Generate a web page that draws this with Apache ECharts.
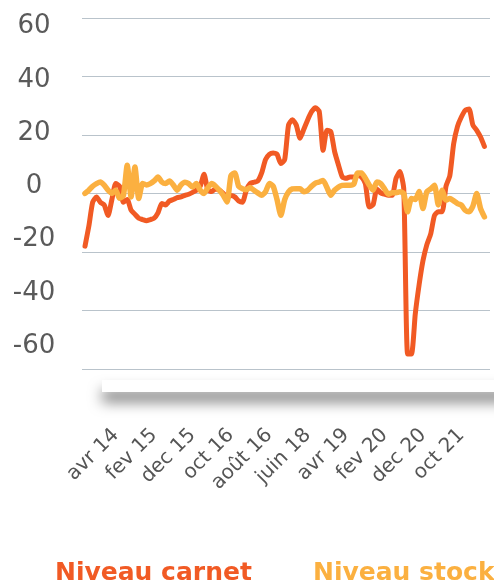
<!DOCTYPE html>
<html>
<head>
<meta charset="utf-8">
<script src="https://cdn.jsdelivr.net/npm/echarts@6/dist/echarts.min.js"></script>
<style>
html,body{margin:0;padding:0;background:#fff;}
#chart{width:494px;height:588px;}
</style>
</head>
<body>
<div id="chart"></div>
<script>
// Monthly categories: août 13 .. avr 22
var monthNames = ['janv','fev','mars','avr','mai','juin','juil','août','sept','oct','nov','dec'];
var startMonth = 7, startYear = 13, pointCount = 105;
var categories = [];
for (var k = 0; k < pointCount; k++) {
  var m = (startMonth + k) % 12, y = startYear + Math.floor((startMonth + k) / 12);
  categories.push(monthNames[m] + ' ' + y);
}
var tickLabels = ['avr 14','fev 15','dec 15','oct 16','août 16','juin 18','avr 19','fev 20','dec 20','oct 21'];
var firstTickIndex = 8, tickStep = 10;

var niveauCarnet = [
 -22.5,-15,-6,-4,-6,-7,-11,-5,1,0,
 -6,-5,-9,-10.5,-12,-12.5,-13,-12.5,-12,-10,
 -6.5,-7,-5.5,-5,-4.3,-4,-3.4,-3,-2.3,-1.5,
 0,4.5,-1.5,-2,-1,-1.5,-2.7,-4,-3.5,-4,
 -5.5,-6,-1.5,1,1.5,2,5,10,12,12.5,
 12,8.5,10,23,25,23,18,21.5,25,28,
 29.5,28,13.5,21,20.5,13,8,3.5,3,3.5,
 3.5,4,3.5,1,-7.8,-7,-1,-2.5,-3,-3.4,
 -3.4,3,5.5,-1,-63,-63,-48,-37,-28,-22,
 -18,-11,-9.6,-9.6,0,4,16,22.5,26,28.5,
 29,23,21,18.5,15
];
var niveauStock = [
 -2.7,-1.5,0,1,1.6,0.4,-1.5,-2.7,-1.5,-4.5,
 -3.5,7.9,-4,7.2,-4.6,1,0.5,1,2,3.5,
 1.6,1,2,0.5,-1.5,0.5,1.5,1,-0.3,1,
 -1.5,-2.7,-0.5,1,0,-1.5,-3.4,-5.9,4,5,
 0,-0.9,-1.3,-0.5,-1.5,-2.5,-3.4,-2.1,1,0,
 -5,-10.9,-5,-2.1,-1,-0.9,-0.9,-2.1,-1.5,0,
 1.2,1.6,2.2,-0.5,-3.4,-1.5,-0.3,0.3,0.4,0.4,
 0.8,5,5,3,0.5,-1.5,1.6,1,-1,-3,
 -2.4,-2.4,-2.1,-2.7,-9.6,-4.6,-5,-2,-8.4,-2.1,
 -1,0.4,-7,-1.5,-5.2,-4.6,-5.5,-6.5,-7.1,-9,
 -9.6,-7.5,-2.7,-8.4,-11.5
];

var colorCarnet = '#F15A24';
var colorStock = '#FBB040';
var fontFam = '"DejaVu Sans", sans-serif';
var legendText = {fontFamily: fontFam, fontSize: 25, fontWeight: 'bold', padding: 0};

var chart = echarts.init(document.getElementById('chart'), null, {renderer: 'canvas'});
chart.setOption({
  animation: false,
  backgroundColor: '#fff',
  graphic: [{
    type: 'rect', z: -10, silent: true,
    shape: {x: 102, y: 380, width: 420, height: 12},
    style: {fill: '#fff', shadowBlur: 14, shadowOffsetY: 10, shadowColor: 'rgba(0,0,0,0.5)'}
  }],
  legend: [{
    left: 45, top: 556, itemWidth: 0, itemHeight: 0, icon: 'none', selectedMode: false,
    textStyle: Object.assign({color: colorCarnet}, legendText),
    data: ['Niveau carnet']
  }, {
    left: 303, top: 556, itemWidth: 0, itemHeight: 0, icon: 'none', selectedMode: false,
    width: 400,
    textStyle: Object.assign({color: colorStock}, legendText),
    data: ['Niveau stock']
  }],
  grid: [
    {left: 85, right: 9.6, top: 26.5, bottom: 242, containLabel: false},
    {left: 82, right: 4, top: 18, height: 351, containLabel: false}
  ],
  xAxis: [{
    gridIndex: 0, type: 'category', data: categories, boundaryGap: false,
    axisLine: {show: false}, axisTick: {show: false}, splitLine: {show: false},
    axisLabel: {
      rotate: 45, margin: 86, color: '#555', fontFamily: fontFam, fontSize: 20,
      interval: function (i) { return i >= firstTickIndex && (i - firstTickIndex) % tickStep === 0; },
      formatter: function (v, i) {
        var n = (i - firstTickIndex) / tickStep;
        return tickLabels[n] || '';
      }
    }
  }, {
    gridIndex: 1, type: 'value', min: 0, max: 1, show: false
  }],
  yAxis: [{
    gridIndex: 0, type: 'value', min: -60, max: 60, interval: 20,
    axisLine: {show: false}, axisTick: {show: false}, splitLine: {show: false},
    axisLabel: {align: 'center', margin: 51, color: '#5a5a5a', fontFamily: fontFam, fontSize: 26}
  }, {
    gridIndex: 1, type: 'value', min: -60, max: 60, interval: 20,
    axisLine: {show: false}, axisTick: {show: false}, axisLabel: {show: false},
    splitLine: {show: true, lineStyle: {color: '#b9c3cb', width: 1}}
  }],
  series: [{
    name: 'Niveau carnet', type: 'line', xAxisIndex: 0, yAxisIndex: 0, clip: false,
    data: niveauCarnet, showSymbol: false, symbol: 'none', smooth: 0.2,
    lineStyle: {color: colorCarnet, width: 5, join: 'round', cap: 'round'},
    itemStyle: {color: colorCarnet}, z: 3
  }, {
    name: 'Niveau stock', type: 'line', xAxisIndex: 0, yAxisIndex: 0, clip: false,
    data: niveauStock, showSymbol: false, symbol: 'none', smooth: 0.2,
    lineStyle: {color: colorStock, width: 5.5, join: 'round', cap: 'round'},
    itemStyle: {color: colorStock}, z: 4
  }]
});
</script>
</body>
</html>
